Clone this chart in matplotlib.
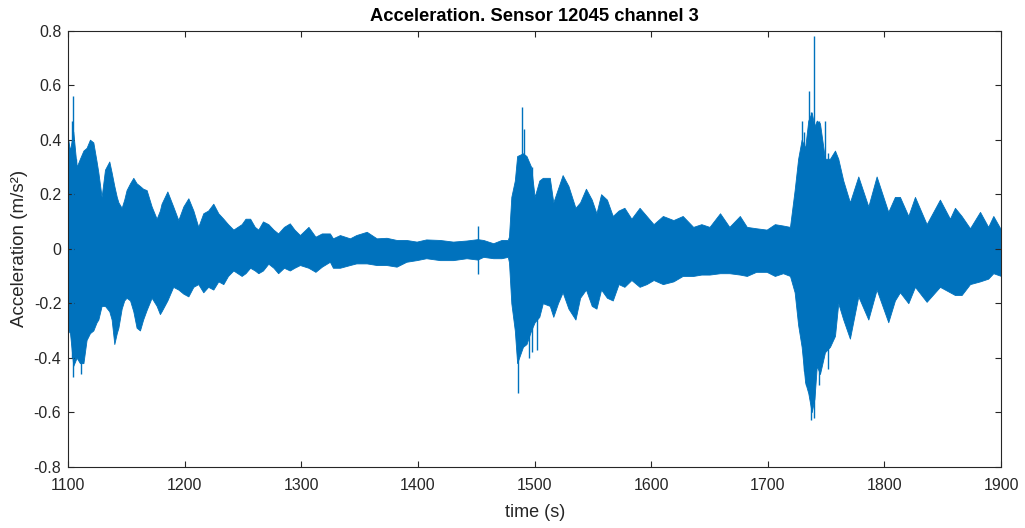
import numpy as np
import matplotlib
matplotlib.use("Agg")
import matplotlib.pyplot as plt

plt.rcParams["font.family"] = ["Liberation Sans", "DejaVu Sans"]

# envelope of the acceleration trace
time_s = [
    1100, 1101.5, 1104.3, 1107.2, 1110, 1113, 1115.7, 1118.6, 1121.5, 1124.3,
    1125.8, 1128.6, 1131.5, 1135.2, 1137.2, 1139.5, 1141.6, 1143, 1145.8, 1148,
    1150, 1153, 1155.8, 1158.6, 1161.5, 1164.2, 1167.2, 1171.5, 1175.8, 1178.6,
    1180, 1185, 1190, 1194.4, 1198.7, 1203, 1207.3, 1211.5, 1215.8, 1220,
    1224.4, 1228.7, 1233, 1237, 1241.6,
    1248.7, 1252, 1256, 1260, 1263, 1267, 1271.6, 1276, 1280, 1285,
    1290, 1294, 1298.7, 1306, 1312, 1317.5, 1324.4, 1327, 1333, 1341.6,
    1347, 1356, 1364.5, 1373, 1381.6, 1390, 1398.8, 1407, 1418.8, 1430,
    1441.6, 1451, 1456, 1464.5, 1471.6, 1477, 1478, 1480, 1483, 1485,
    1490, 1493, 1497, 1500, 1504, 1507, 1513, 1516, 1520, 1524,
    1529, 1535, 1539, 1544, 1549, 1553, 1557, 1562, 1567, 1572,
    1577, 1583, 1590, 1596, 1602, 1610, 1619, 1627, 1636, 1643,
    1650, 1659, 1667, 1676, 1682, 1690, 1699, 1706, 1713, 1719,
    1723, 1726, 1729, 1732, 1734.7, 1737.6, 1740, 1742, 1744.7, 1749,
    1753.3, 1757.6, 1760.4, 1764.7, 1770.4, 1777.6, 1786.2, 1793.3, 1803.3, 1809,
    1813.3, 1820.5, 1826.2, 1836.2, 1847.6, 1856.2, 1860.5, 1866.2, 1873.4, 1882,
    1889, 1893.4, 1900,
]
upper = [
    0.40, 0.36, 0.43, 0.30, 0.33, 0.36, 0.37, 0.40, 0.39, 0.32,
    0.28, 0.19, 0.29, 0.32, 0.28, 0.23, 0.19, 0.17, 0.15, 0.18,
    0.215, 0.24, 0.26, 0.24, 0.23, 0.22, 0.215, 0.155, 0.11, 0.14,
    0.165, 0.21, 0.155, 0.105, 0.155, 0.185, 0.14, 0.08, 0.13, 0.14,
    0.165, 0.13, 0.11, 0.09, 0.07,
    0.09, 0.11, 0.11, 0.08, 0.07, 0.10, 0.09, 0.07, 0.056, 0.08,
    0.093, 0.07, 0.05, 0.08, 0.044, 0.056, 0.056, 0.038, 0.05, 0.038,
    0.05, 0.062, 0.038, 0.04, 0.032, 0.032, 0.026, 0.034, 0.032, 0.026,
    0.03, 0.035, 0.032, 0.02, 0.032, 0.032, 0.045, 0.19, 0.25, 0.34,
    0.35, 0.34, 0.30, 0.19, 0.25, 0.26, 0.26, 0.17, 0.22, 0.27,
    0.23, 0.15, 0.17, 0.22, 0.18, 0.13, 0.20, 0.18, 0.12, 0.14,
    0.15, 0.11, 0.15, 0.12, 0.09, 0.12, 0.105, 0.12, 0.08, 0.09,
    0.08, 0.13, 0.08, 0.12, 0.08, 0.075, 0.07, 0.09, 0.085, 0.08,
    0.215, 0.33, 0.40, 0.37, 0.47, 0.50, 0.45, 0.47, 0.46, 0.33,
    0.33, 0.36, 0.33, 0.25, 0.17, 0.265, 0.155, 0.265, 0.135, 0.19,
    0.19, 0.12, 0.19, 0.09, 0.18, 0.11, 0.15, 0.12, 0.075, 0.135,
    0.08, 0.12, 0.07,
]
lower = [
    -0.30, -0.31, -0.43, -0.40, -0.42, -0.42, -0.335, -0.31, -0.30, -0.27,
    -0.26, -0.21, -0.21, -0.23, -0.26, -0.35, -0.31, -0.29, -0.22, -0.19,
    -0.18, -0.19, -0.23, -0.29, -0.30, -0.26, -0.225, -0.18, -0.21, -0.24,
    -0.23, -0.19, -0.14, -0.15, -0.165, -0.175, -0.14, -0.13, -0.16, -0.14,
    -0.15, -0.12, -0.13, -0.10, -0.08,
    -0.10, -0.09, -0.07, -0.08, -0.09, -0.08, -0.055, -0.07, -0.09, -0.07,
    -0.08, -0.07, -0.06, -0.07, -0.085, -0.066, -0.048, -0.07, -0.07, -0.06,
    -0.054, -0.054, -0.06, -0.06, -0.066, -0.048, -0.042, -0.035, -0.042, -0.042,
    -0.035, -0.04, -0.03, -0.035, -0.035, -0.03, -0.05, -0.20, -0.30, -0.42,
    -0.36, -0.35, -0.30, -0.27, -0.25, -0.20, -0.21, -0.25, -0.20, -0.16,
    -0.22, -0.26, -0.18, -0.15, -0.21, -0.22, -0.15, -0.18, -0.19, -0.13,
    -0.14, -0.115, -0.14, -0.13, -0.115, -0.13, -0.12, -0.10, -0.10, -0.095,
    -0.095, -0.09, -0.09, -0.095, -0.10, -0.085, -0.085, -0.10, -0.09, -0.10,
    -0.16, -0.28, -0.36, -0.49, -0.53, -0.60, -0.55, -0.43, -0.46, -0.38,
    -0.36, -0.32, -0.20, -0.26, -0.33, -0.175, -0.26, -0.15, -0.27, -0.19,
    -0.16, -0.20, -0.14, -0.195, -0.14, -0.16, -0.17, -0.17, -0.13, -0.12,
    -0.11, -0.09, -0.10,
]

# isolated spikes sticking out of the envelope
spike_t = [1103.0, 1104.3, 1106.5, 1111.0, 1451.5, 1485.5, 1489.5, 1491.0,
           1495.0, 1497.5, 1502.0, 1729.0, 1731.0, 1735.0, 1737.0, 1740.0,
           1744.0, 1749.0, 1732.5, 1752.0]
spike_lo = [-0.40, -0.47, -0.30, -0.46, -0.093, -0.53, -0.30, -0.30,
            -0.40, -0.38, -0.37, -0.30, -0.45, -0.45, -0.63, -0.62,
            -0.50, -0.30, -0.50, -0.44]
spike_hi = [0.47, 0.56, 0.33, 0.30, 0.083, 0.30, 0.52, 0.44,
            0.30, 0.30, 0.20, 0.47, 0.43, 0.58, 0.50, 0.78,
            0.47, 0.47, 0.30, 0.35]

xticks = [1100, 1200, 1300, 1400, 1500, 1600, 1700, 1800, 1900]
yticks = [-0.8, -0.6, -0.4, -0.2, 0, 0.2, 0.4, 0.6, 0.8]
ytick_labels = ["-0.8", "-0.6", "-0.4", "-0.2", "0", "0.2", "0.4", "0.6", "0.8"]

BLUE = "#0072BD"
AXCOL = "#262626"

fig = plt.figure(figsize=(10.25, 5.28), dpi=100)
ax = fig.add_axes([0.0666, 0.1161, 0.91, 0.8258])

ax.fill_between(time_s, lower, upper, color=BLUE, linewidth=0.6, edgecolor=BLUE)
ax.vlines(spike_t, spike_lo, spike_hi, color=BLUE, linewidth=1.0)

ax.set_xlim(1100, 1900)
ax.set_ylim(-0.8, 0.8)
ax.set_xticks(xticks)
ax.set_yticks(yticks)
ax.set_yticklabels(ytick_labels)

ax.tick_params(direction="in", length=4, width=0.8, colors=AXCOL,
               labelsize=11.5, top=True, right=True)
ax.tick_params(axis="x", pad=8)
ax.tick_params(axis="y", pad=5)
for sp in ax.spines.values():
    sp.set_color(AXCOL)
    sp.set_linewidth(0.8)

ax.set_title("Acceleration. Sensor 12045 channel 3", fontsize=13.2,
             fontweight="bold", color="black", pad=7)
ax.set_xlabel("time (s)", fontsize=13, color=AXCOL, labelpad=8)
ax.set_ylabel("Acceleration (m/s²)", fontsize=13.5, color=AXCOL, labelpad=4)

fig.savefig("out.png", dpi=100)
